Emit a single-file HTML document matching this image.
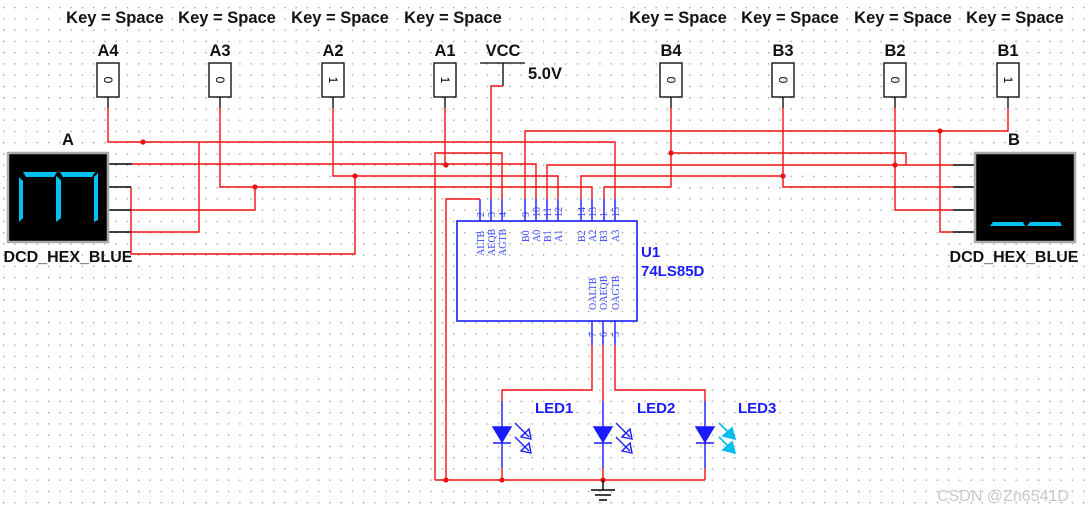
<!DOCTYPE html>
<html><head><meta charset="utf-8"><style>
html,body{margin:0;padding:0;background:#fff}
svg{display:block}
.t{font-family:"Liberation Sans",Arial,sans-serif;font-weight:bold}
.p{font-family:"Liberation Serif",serif;font-size:10px;fill:#3344ff}
</style></head><body>
<svg width="1089" height="512" viewBox="0 0 1089 512" xmlns="http://www.w3.org/2000/svg">
<defs><pattern id="g" x="3" y="7" width="11.25" height="11.25" patternUnits="userSpaceOnUse"><rect x="0" y="0" width="1.3" height="1.3" fill="#999"/></pattern></defs>
<rect width="1089" height="512" fill="#fff"/>
<rect width="1089" height="512" fill="url(#g)"/>

<g class="t" font-size="16.5" fill="#111" text-anchor="middle">
<text x="115" y="23">Key = Space</text><text x="227" y="23">Key = Space</text><text x="340" y="23">Key = Space</text><text x="453" y="23">Key = Space</text>
<text x="678" y="23">Key = Space</text><text x="790" y="23">Key = Space</text><text x="903" y="23">Key = Space</text><text x="1015" y="23">Key = Space</text>
<text x="108" y="56">A4</text><text x="220" y="56">A3</text><text x="333" y="56">A2</text><text x="445" y="56">A1</text>
<text x="503" y="56">VCC</text><text x="545" y="79">5.0V</text>
<text x="671" y="56">B4</text><text x="783" y="56">B3</text><text x="895" y="56">B2</text><text x="1008" y="56">B1</text>
<text x="68" y="145">A</text><text x="1014" y="145">B</text>
</g>
<g class="t" font-size="16" fill="#111" text-anchor="middle">
<text x="68" y="262">DCD_HEX_BLUE</text><text x="1014" y="262">DCD_HEX_BLUE</text>
</g>

<g stroke="#000" stroke-width="1.3" fill="#fff">
<rect x="97" y="63" width="22" height="34"/><rect x="209" y="63" width="22" height="34"/><rect x="322" y="63" width="22" height="34"/><rect x="434" y="63" width="22" height="34"/>
<rect x="660" y="63" width="22" height="34"/><rect x="772" y="63" width="22" height="34"/><rect x="884" y="63" width="22" height="34"/><rect x="997" y="63" width="22" height="34"/>
<path d="M108 97V108M220 97V108M333 97V108M445 97V108M671 97V108M783 97V108M895 97V108M1008 97V108" fill="none"/>
<path d="M480 63H525M503 63V86" fill="none"/>
</g>
<g font-family="Liberation Sans,sans-serif" font-size="12" fill="#000" text-anchor="middle">
<text transform="translate(104,80) rotate(90)">0</text><text transform="translate(216,80) rotate(90)">0</text><text transform="translate(329,80) rotate(90)">1</text><text transform="translate(441,80) rotate(90)">1</text>
<text transform="translate(667,80) rotate(90)">0</text><text transform="translate(779,80) rotate(90)">0</text><text transform="translate(891,80) rotate(90)">0</text><text transform="translate(1004,80) rotate(90)">1</text>
</g>

<g stroke="#f01010" stroke-width="1.4" fill="none">
<path d="M108 108V142H615V199"/>
<path d="M199 142V232H130"/>
<path d="M220 108V187H592V199"/>
<path d="M255 187V210H130"/>
<path d="M333 108V176H558V199"/>
<path d="M355 176V254H131V187"/>
<path d="M445 108V165"/>
<path d="M132 164H536V199"/>
<path d="M503 86H491V199"/>
<path d="M435 480V153H502V199"/>
<path d="M446 480V199H480"/>
<path d="M671 108V187H604V199"/>
<path d="M671 153H906V165"/>
<path d="M547 199V165H953"/>
<path d="M783 108V187H953"/>
<path d="M581 199V176H783"/>
<path d="M895 108V210H953"/>
<path d="M1008 108V131H525V199"/>
<path d="M940 131V232H953"/>
<path d="M592 345V390H502V401"/>
<path d="M603 345V401"/>
<path d="M615 345V390H705V401"/>
<path d="M502 468V480M603 468V480M705 468V480M435 480H705"/>
</g>
<g fill="#f01010">
<circle cx="143" cy="142" r="2.6"/><circle cx="255" cy="187" r="2.6"/><circle cx="355" cy="176" r="2.6"/><circle cx="446" cy="165" r="2.6"/>
<circle cx="671" cy="153" r="2.6"/><circle cx="783" cy="176" r="2.6"/><circle cx="895" cy="165" r="2.6"/><circle cx="940" cy="131" r="2.6"/>
<circle cx="446" cy="480" r="2.6"/><circle cx="502" cy="480" r="2.6"/><circle cx="603" cy="480" r="2.6"/>
</g>

<g stroke="#000" stroke-width="1.4">
<path d="M108 164H132M108 187H131M108 210H131M108 232H131"/>
<path d="M953 165H975M953 187H975M953 210H975M953 232H975"/>
</g>
<rect x="8" y="153" width="100" height="89" fill="#000" stroke="#aaa" stroke-width="2.5"/>
<rect x="975" y="153" width="100" height="89" fill="#000" stroke="#aaa" stroke-width="2.5"/>
<g fill="#00c0f0">
<polygon points="23,172 57,172 54,177 26,177"/>
<polygon points="60,172 95,172 92,177 63,177"/>
<polygon points="19,177 23,181 23,218 19,222"/>
<polygon points="56,176 61,180 61,218 56,222"/>
<polygon points="94,177 98,173 98,220 94,222"/>
<polygon points="993,222 1023,222 1025,226 990,226"/>
<polygon points="1030,222 1060,222 1062,226 1027,226"/>
</g>

<rect x="457" y="221" width="180" height="100" fill="none" stroke="#1a1aff" stroke-width="1.6"/>
<g stroke="#1a1aff" stroke-width="1.4">
<path d="M480 199V221M491 199V221M502 199V221M525 199V221M536 199V221M547 199V221M558 199V221M581 199V221M592 199V221M604 199V221M615 199V221"/>
<path d="M592 321V345M603 321V345M615 321V345"/>
</g>
<g class="p">
<text transform="translate(484,217) rotate(-90)">2</text><text transform="translate(495,217) rotate(-90)">3</text><text transform="translate(506,217) rotate(-90)">4</text>
<text transform="translate(529,217) rotate(-90)">9</text><text transform="translate(540,217) rotate(-90)">10</text><text transform="translate(551,217) rotate(-90)">11</text><text transform="translate(562,217) rotate(-90)">12</text>
<text transform="translate(585,217) rotate(-90)">14</text><text transform="translate(596,217) rotate(-90)">13</text><text transform="translate(607,217) rotate(-90)">1</text><text transform="translate(619,217) rotate(-90)">15</text>
<text transform="translate(484,256) rotate(-90)">ALTB</text><text transform="translate(495,256) rotate(-90)">AEQB</text><text transform="translate(506,256) rotate(-90)">AGTB</text>
<text transform="translate(529,242) rotate(-90)">B0</text><text transform="translate(540,242) rotate(-90)">A0</text><text transform="translate(551,242) rotate(-90)">B1</text><text transform="translate(562,242) rotate(-90)">A1</text>
<text transform="translate(585,242) rotate(-90)">B2</text><text transform="translate(596,242) rotate(-90)">A2</text><text transform="translate(607,242) rotate(-90)">B3</text><text transform="translate(619,242) rotate(-90)">A3</text>
<text transform="translate(596,310) rotate(-90)">OALTB</text><text transform="translate(607,310) rotate(-90)">OAEQB</text><text transform="translate(619,310) rotate(-90)">OAGTB</text>
<text transform="translate(596,337) rotate(-90)">7</text><text transform="translate(607,337) rotate(-90)">6</text><text transform="translate(619,337) rotate(-90)">5</text>
</g>
<g class="t" font-size="15" fill="#1a1aff">
<text x="641" y="257">U1</text><text x="641" y="276">74LS85D</text>
<text x="535" y="413">LED1</text><text x="637" y="413">LED2</text><text x="738" y="413">LED3</text>
</g>

<g stroke="#1a1aff" stroke-width="1.4" fill="#1a1aff">
<path d="M502 401V468M603 401V468M705 401V468" fill="none"/>
<polygon points="493,427 511,427 502,442"/><path d="M493 443H511"/>
<polygon points="594,427 612,427 603,442"/><path d="M594 443H612"/>
<polygon points="696,427 714,427 705,442"/><path d="M696 443H714"/>
<g fill="none">
<path d="M515 423L529 437M515 437L529 451"/><polygon points="531,439 521,437 529,429"/><polygon points="531,453 521,451 529,443"/>
<path d="M616 423L630 437M616 437L630 451"/><polygon points="632,439 622,437 630,429"/><polygon points="632,453 622,451 630,443"/>
</g>
</g>
<g stroke="#00b8f0" stroke-width="1.6" fill="#00c0f0">
<path d="M719 423L732 436M719 437L732 450"/><polygon points="735,439 723,436 732,428"/><polygon points="735,453 723,450 732,442"/>
</g>

<g stroke="#000" stroke-width="1.4">
<path d="M603 480V490M591 490H615M595 495H611M599 500H607"/>
</g>

<text x="1003" y="501" text-anchor="middle" font-family="Liberation Sans,sans-serif" font-size="16" fill="#c8c8c8">CSDN @Zn6541D</text>
</svg>
</body></html>
